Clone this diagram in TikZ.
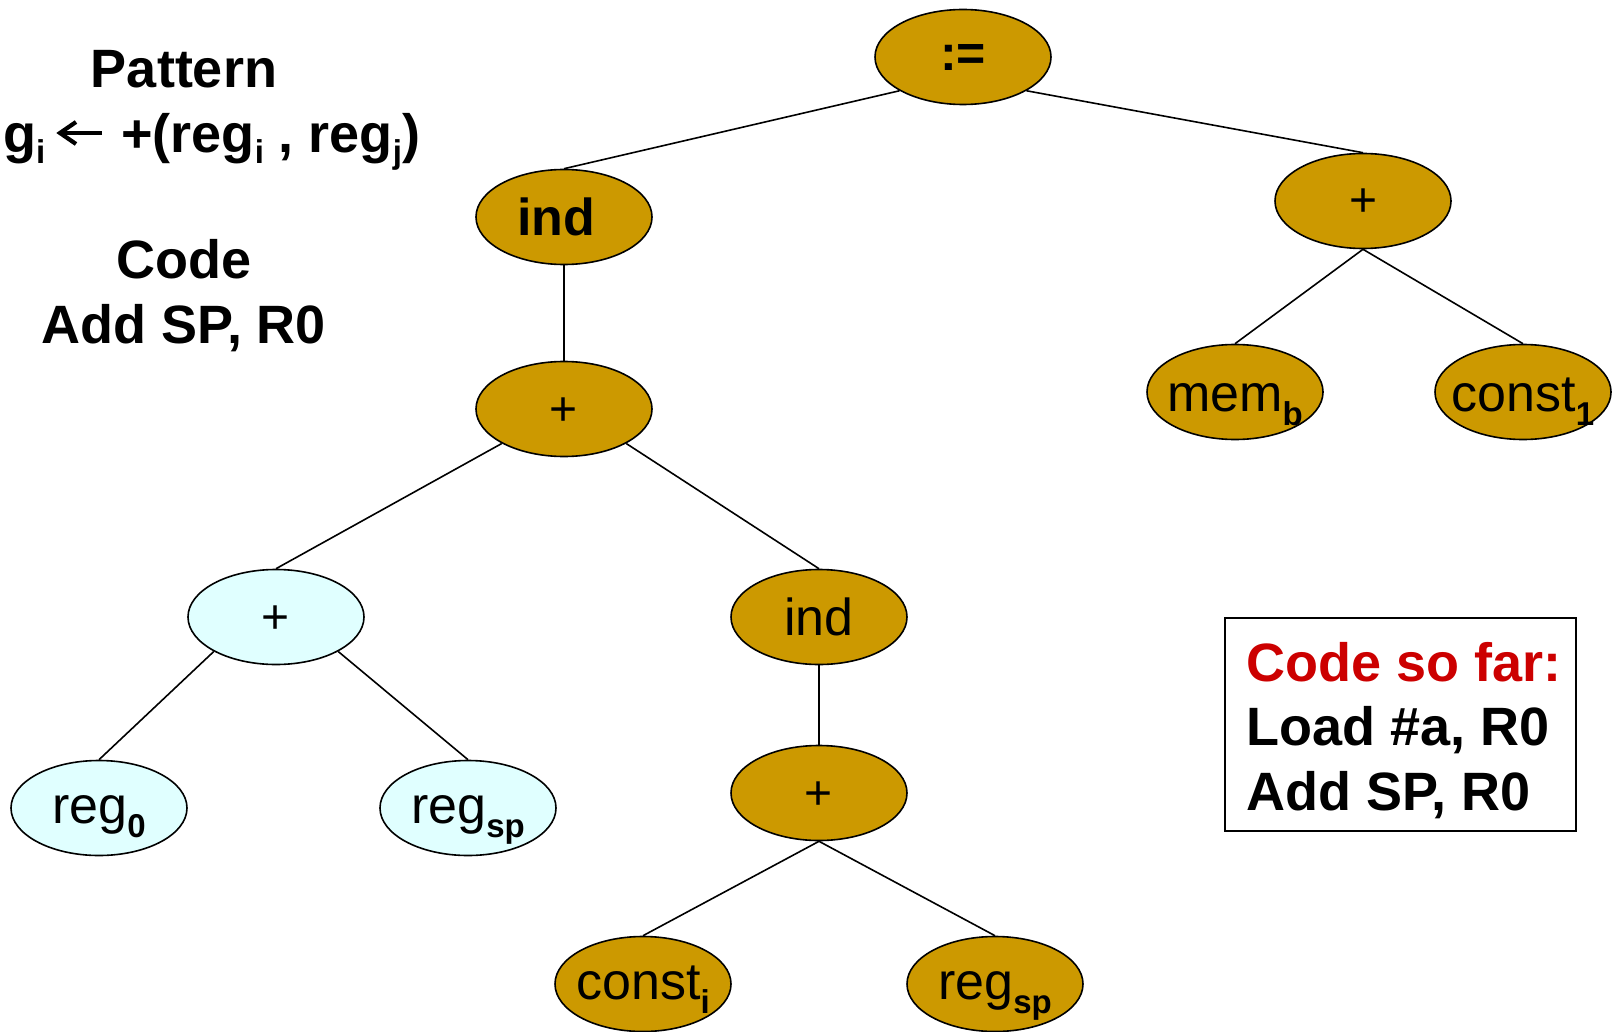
\documentclass[tikz,border=0pt]{standalone}
\usepackage{fontspec}
\setmainfont{Liberation Sans}
\usetikzlibrary{shapes.geometric}
\definecolor{gold}{HTML}{CC9900}
\definecolor{pale}{HTML}{E0FFFF}
\definecolor{codered}{HTML}{CC0000}

\tikzset{
  tnode/.style={ellipse, draw=black, line width=1.6pt, minimum width=176pt,
    minimum height=95pt, inner sep=0pt, font=\fontsize{52}{52}\selectfont},
  goldnode/.style={tnode, fill=gold},
  palenode/.style={tnode, fill=pale},
  treeedge/.style={line width=1.6pt},
  bigtext/.style={font=\fontsize{54}{54}\selectfont\bfseries, inner sep=0pt},
  glyphstroke/.style={line width=4.2pt, line join=miter, line cap=butt},
}
% label set on a fixed baseline, not widening the ellipse
\newcommand{\lbl}[2]{\makebox[0pt]{\raisebox{-#1pt}[0pt][0pt]{#2}}}
% subscripts inside the tree nodes
\newcommand{\sbs}[1]{\raisebox{-14pt}{\fontsize{33}{33}\selectfont\bfseries #1}}
% subscripts in the pattern line
\newcommand{\psb}[1]{\raisebox{-11pt}{\fontsize{33}{33}\selectfont\bfseries #1}}

\begin{document}
\begin{tikzpicture}[x=1pt, y=-1pt]
\useasboundingbox (0,0) rectangle (1619,1032);

% operator tree
\node[goldnode] (assign) at (963,57) {\lbl{14}{\fontsize{50}{50}\selectfont\bfseries :=}};
\node[goldnode] (indA) at (564,217) {\lbl{19}{\hspace*{-16pt}\bfseries ind}};
\node[goldnode] (plusR) at (1363,201) {\lbl{16}{\fontsize{48}{48}\selectfont +}};
\node[goldnode] (mem) at (1235,392) {\lbl{19}{mem\sbs{b}}};
\node[goldnode] (cone) at (1523,392) {\lbl{19}{const\sbs{1}}};
\node[goldnode] (plusM) at (564,409) {\lbl{16}{\fontsize{48}{48}\selectfont +}};
\node[palenode] (plusL) at (276,617) {\lbl{16}{\fontsize{48}{48}\selectfont +}};
\node[goldnode] (indB) at (819,617) {\lbl{18}{ind}};
\node[palenode] (regz) at (99,808) {\lbl{15}{reg\sbs{0}}};
\node[palenode] (regspA) at (468,808) {\lbl{15}{reg\sbs{sp}}};
\node[goldnode] (plusB) at (819,793) {\lbl{16}{\fontsize{48}{48}\selectfont +}};
\node[goldnode] (consti) at (643,984) {\lbl{15}{const\sbs{i}}};
\node[goldnode] (regspB) at (995,984) {\lbl{15}{reg\sbs{sp}}};

\draw[treeedge] (assign.208) -- (indA.north);
\draw[treeedge] (assign.332) -- (plusR.north);
\draw[treeedge] (plusR.south) -- (mem.north);
\draw[treeedge] (plusR.south) -- (cone.north);
\draw[treeedge] (indA.south) -- (plusM.north);
\draw[treeedge] (plusM.209) -- (plusL.north);
\draw[treeedge] (plusM.331) -- (indB.north);
\draw[treeedge] (plusL.209) -- (regz.north);
\draw[treeedge] (plusL.331) -- (regspA.north);
\draw[treeedge] (indB.south) -- (plusB.north);
\draw[treeedge] (plusB.south) -- (consti.north);
\draw[treeedge] (plusB.south) -- (regspB.north);

% pattern and emitted code
\node[bigtext, anchor=base] (pat) at (184,88) {Pattern};
\node[bigtext, anchor=base west] (ruleL) at (3,153) {g\psb{i}};
\node[bigtext, anchor=base west] (ruleR) at (121,153) {+(reg\psb{i} , reg\psb{j})};
% the left arrow of the rule
\draw[glyphstroke] (102,133) -- (60,133);
\draw[glyphstroke] (76,122) -- (60,133) -- (76,144);
\node[bigtext, anchor=base] (codeh) at (184,279) {Code};
\node[bigtext, anchor=base] (codel) at (184,343) {Add SP, R0};

% code generated so far
\draw[line width=1.8pt] (1225,618) rectangle (1576,831);
\node[bigtext, anchor=base west, text=codered] (sofar) at (1246,681) {Code so far:};
\node[bigtext, anchor=base west] (loadl) at (1246,745) {Load \#a, R0};
\node[bigtext, anchor=base west] (addl) at (1246,810) {Add SP, R0};
\end{tikzpicture}
\end{document}
